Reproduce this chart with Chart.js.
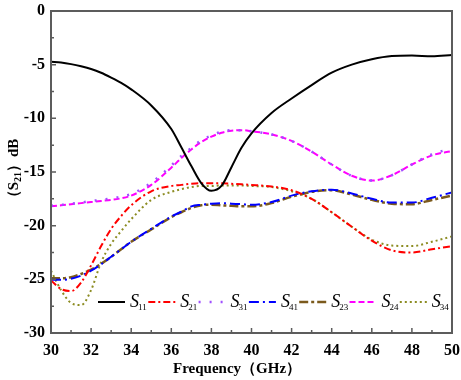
<!DOCTYPE html>
<html>
<head>
<meta charset="utf-8" />
<title>S parameters</title>
<script src="https://cdn.jsdelivr.net/npm/chart.js@4.4.0/dist/chart.umd.min.js"></script>
<style>
  html, body { margin: 0; padding: 0; background: #fff; }
</style>
</head>
<body>
<canvas id="sparam" width="461" height="380"></canvas>
<script>
// frequency points (GHz)
var freq = [30, 30.5, 31, 31.5, 32, 32.5, 33, 33.5, 34, 35, 36, 36.5, 37, 37.5, 38, 38.5, 39, 39.5, 40, 41, 42, 43, 44, 45, 46, 47, 48, 49, 50];

// values in dB
var s11 = [-4.72, -4.8, -4.95, -5.15, -5.4, -5.75, -6.2, -6.7, -7.3, -8.8, -11.0, -12.7, -14.45, -16.05, -16.75, -16.3, -14.55, -12.75, -11.4, -9.5, -8.15, -6.9, -5.75, -5.0, -4.5, -4.2, -4.15, -4.22, -4.1];
var s21 = [-25.1, -25.9, -26.1, -25.3, -23.7, -21.9, -20.3, -19.1, -18.1, -16.8, -16.3, -16.2, -16.1, -16.05, -16.05, -16.05, -16.1, -16.15, -16.2, -16.35, -16.7, -17.5, -18.75, -20.1, -21.4, -22.3, -22.5, -22.2, -21.9];
var s31 = [-18.15, -18.05, -17.95, -17.85, -17.7, -17.6, -17.45, -17.3, -17.05, -16.0, -14.4, -13.5, -12.75, -12.05, -11.6, -11.25, -11.1, -11.1, -11.2, -11.5, -12.1, -13.1, -14.3, -15.35, -15.8, -15.3, -14.3, -13.35, -12.8];
var s41 = [-25.05, -25.05, -24.95, -24.65, -24.2, -23.6, -22.9, -22.2, -21.5, -20.3, -19.15, -18.7, -18.2, -18.05, -17.95, -17.9, -17.95, -18.0, -18.05, -17.8, -17.2, -16.8, -16.65, -17.0, -17.5, -17.85, -17.85, -17.4, -16.9];
var s23 = [-24.9, -24.9, -24.8, -24.5, -24.1, -23.55, -22.9, -22.2, -21.5, -20.35, -19.2, -18.75, -18.35, -18.1, -18.05, -18.1, -18.15, -18.2, -18.2, -17.9, -17.3, -16.85, -16.7, -17.1, -17.6, -17.95, -18.0, -17.6, -17.2];
var s24 = [-18.2, -18.1, -18.0, -17.9, -17.8, -17.7, -17.6, -17.45, -17.2, -16.2, -14.6, -13.7, -12.9, -12.2, -11.7, -11.35, -11.15, -11.1, -11.2, -11.5, -12.1, -13.1, -14.3, -15.35, -15.8, -15.3, -14.3, -13.45, -13.05];
var s34 = [-24.2, -26.0, -27.2, -27.4, -26.0, -23.4, -21.7, -20.5, -19.4, -17.6, -16.85, -16.6, -16.4, -16.3, -16.3, -16.25, -16.25, -16.25, -16.3, -16.4, -16.8, -17.5, -18.75, -20.1, -21.3, -21.85, -21.9, -21.5, -21.0];

var subs = ["11", "21", "31", "41", "23", "24", "34"];
var xTicks = [30, 32, 34, 36, 38, 40, 42, 44, 46, 48, 50];
var yTicks = [0, -5, -10, -15, -20, -25, -30];

var serif = "'Liberation Serif', 'Times New Roman', serif";

function pts(vals) {
  return freq.map(function (f, i) { return { x: f, y: vals[i] }; });
}

function line(vals, name, color, dash, w) {
  return {
    label: "S" + name,
    data: pts(vals),
    borderColor: color,
    backgroundColor: color,
    borderDash: dash,
    borderWidth: w,
    pointRadius: 0,
    cubicInterpolationMode: "monotone",
    fill: false
  };
}

// frame, inward ticks, axis titles and legend
var deco = {
  id: "deco",
  afterDraw: function (chart) {
    var ctx = chart.ctx, a = chart.chartArea;
    var xs = chart.scales.x, ys = chart.scales.y;
    ctx.save();
    ctx.strokeStyle = "#5c5c5c";
    ctx.lineWidth = 2;
    ctx.setLineDash([]);
    ctx.strokeRect(a.left, a.top, a.right - a.left, a.bottom - a.top);

    ctx.lineWidth = 1.5;
    ctx.beginPath();
    for (var f = 30; f <= 50; f++) {
      var px = xs.getPixelForValue(f);
      var len = (f % 2) ? 3 : 5;
      ctx.moveTo(px, a.bottom);
      ctx.lineTo(px, a.bottom - len);
    }
    for (var v = 0; v >= -30; v -= 2.5) {
      var py = ys.getPixelForValue(v);
      var l2 = (v % 5) ? 3 : 5;
      ctx.moveTo(a.left, py);
      ctx.lineTo(a.left + l2, py);
    }
    ctx.stroke();

    // x title
    ctx.fillStyle = "#000";
    ctx.font = "bold 15px " + serif;
    ctx.textBaseline = "middle";
    ctx.textAlign = "left";
    ctx.fillText("Frequency（GHz）", 173, 369);

    // y title, rotated
    ctx.save();
    ctx.translate(14, (a.top + a.bottom) / 2);
    ctx.rotate(-Math.PI / 2);
    var p1 = "（S", p2 = "21", p3 = "）dB";
    ctx.font = "bold 15px " + serif;
    var w1 = ctx.measureText(p1).width, w3 = ctx.measureText(p3).width;
    ctx.font = "bold 10px " + serif;
    var w2 = ctx.measureText(p2).width;
    var x0 = -(w1 + w2 + w3) / 2;
    ctx.font = "bold 15px " + serif;
    ctx.fillText(p1, x0, 0);
    ctx.font = "bold 10px " + serif;
    ctx.fillText(p2, x0 + w1, 4);
    ctx.font = "bold 15px " + serif;
    ctx.fillText(p3, x0 + w1 + w2, 0);
    ctx.restore();

    // legend
    var ly = 302;
    chart.data.datasets.forEach(function (ds, i) {
      var lx = 98 + i * 50.3;
      ctx.strokeStyle = ds.borderColor;
      ctx.lineWidth = ds.borderWidth;
      ctx.setLineDash(ds.borderDash);
      ctx.beginPath();
      ctx.moveTo(lx, ly);
      ctx.lineTo(lx + 27, ly);
      ctx.stroke();
      ctx.setLineDash([]);
      var tx = lx + 32;
      ctx.fillStyle = "#000";
      ctx.font = "italic 18px " + serif;
      ctx.fillText("S", tx, ly);
      var sw = ctx.measureText("S").width;
      ctx.font = "9px " + serif;
      ctx.fillText(subs[i], tx + sw - 1, ly + 6);
    });
    ctx.restore();
  }
};

var ctx = document.getElementById("sparam").getContext("2d");
var chart = new Chart(ctx, {
  type: "line",
  data: {
    datasets: [
      line(s11, subs[0], "#000000", [], 2),
      line(s21, subs[1], "#ff0000", [7, 3, 2, 3], 2),
      line(s31, subs[2], "#a050ff", [2, 9], 2.5),
      line(s41, subs[3], "#0000ff", [10, 4, 2, 4], 2),
      line(s23, subs[4], "#7b5a1c", [9, 3, 3, 3], 2.5),
      line(s24, subs[5], "#ff00ff", [6, 3], 2),
      line(s34, subs[6], "#8c8c22", [2, 3], 2)
    ]
  },
  options: {
    responsive: false,
    animation: false,
    devicePixelRatio: 1,
    layout: { padding: { left: 0, top: 11, right: 9, bottom: 0 } },
    plugins: { legend: { display: false }, tooltip: { enabled: false } },
    scales: {
      x: {
        type: "linear",
        min: 30,
        max: 50,
        grid: { display: false, drawTicks: false },
        border: { display: false },
        afterBuildTicks: function (s) { s.ticks = xTicks.map(function (t) { return { value: t }; }); },
        afterFit: function (s) {
          s.height = 47;
          s.paddingLeft = 0; s.paddingRight = 0; s.paddingTop = 0; s.paddingBottom = 0;
        },
        ticks: {
          padding: 8,
          color: "#000",
          font: { family: serif, weight: "bold", size: 16 }
        }
      },
      y: {
        min: -30,
        max: 0,
        grid: { display: false, drawTicks: false },
        border: { display: false },
        afterBuildTicks: function (s) { s.ticks = yTicks.map(function (t) { return { value: t }; }); },
        afterFit: function (s) {
          s.width = 51;
          s.paddingLeft = 0; s.paddingRight = 0; s.paddingTop = 0; s.paddingBottom = 0;
        },
        ticks: {
          padding: 6,
          color: "#000",
          font: { family: serif, weight: "bold", size: 16 }
        }
      }
    }
  },
  plugins: [deco]
});
</script>
</body>
</html>
